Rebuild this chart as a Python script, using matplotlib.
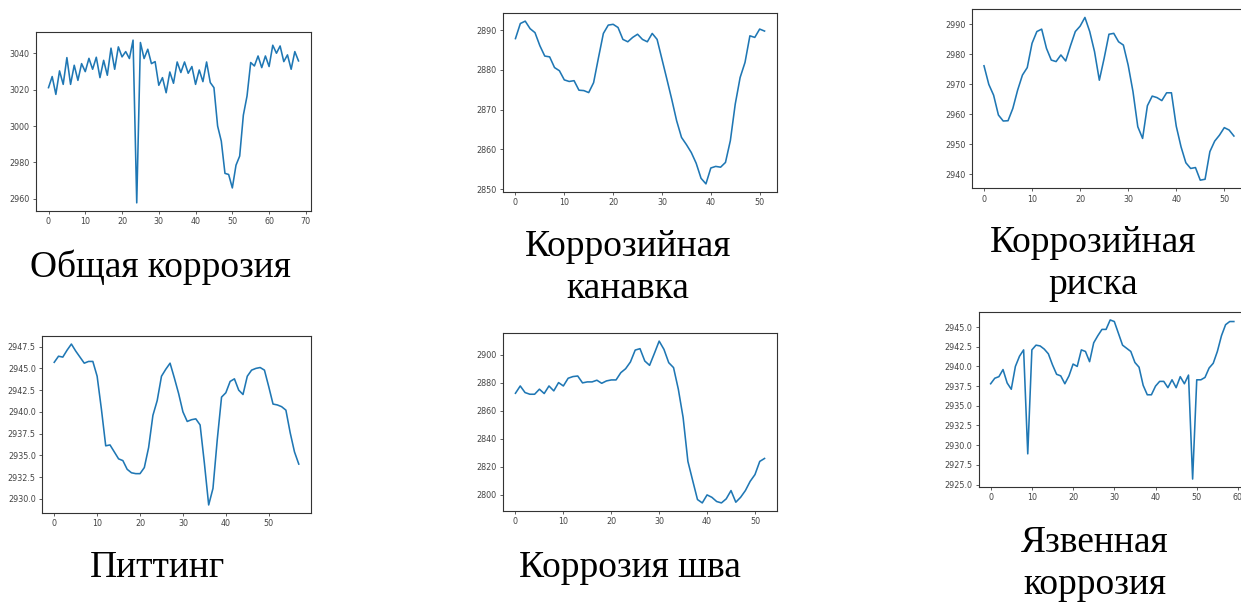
import matplotlib
matplotlib.use("Agg")
import matplotlib.pyplot as plt

W, H = 1241, 602

captions = [
    ["Общая коррозия"],
    ["Коррозийная", "канавка"],
    ["Коррозийная", "риска"],
    ["Питтинг"],
    ["Коррозия шва"],
    ["Язвенная", "коррозия"],
]

general = [3021.1, 3027.2, 3017.4, 3030.3, 3022.9, 3037.6, 3022.9, 3033.4, 3025.1, 3034.3,
           3029.9, 3037.2, 3031.2, 3037.8, 3026.6, 3036.1, 3027.9, 3042.8, 3031.2, 3043.5,
           3038.0, 3040.9, 3037.1, 3047.2, 2957.8, 3045.9, 3037.1, 3042.2, 3034.3, 3035.4,
           3022.4, 3026.6, 3018.3, 3029.7, 3023.5, 3035.2, 3029.4, 3035.2, 3029.0, 3032.7,
           3022.9, 3030.8, 3024.4, 3035.2, 3023.9, 3021.1, 3000.0, 2991.7, 2974.0, 2973.4,
           2966.0, 2978.5, 2983.5, 3006.0, 3016.5, 3034.9, 3033.0, 3038.5, 3032.1, 3038.5,
           3032.7, 3044.4, 3040.0, 3044.0, 3035.4, 3039.1, 3031.2, 3040.9, 3035.8]

groove = [2887.9, 2891.7, 2892.3, 2890.4, 2889.4, 2886.1, 2883.5, 2883.3, 2880.6, 2879.8,
          2877.5, 2877.1, 2877.3, 2874.9, 2874.8, 2874.3, 2876.8, 2883.1, 2889.2, 2891.3,
          2891.5, 2890.7, 2887.7, 2887.1, 2888.2, 2889.0, 2887.7, 2887.1, 2889.2, 2887.7,
          2882.7, 2877.7, 2872.6, 2867.2, 2863.0, 2861.2, 2859.2, 2856.5, 2852.7, 2851.3,
          2855.3, 2855.7, 2855.5, 2856.7, 2862.2, 2871.4, 2878.1, 2881.9, 2888.6, 2888.2,
          2890.3, 2889.8]

scratch = [2976.2, 2970.0, 2966.4, 2959.8, 2957.8, 2957.9, 2962.0, 2968.1, 2973.1, 2975.6,
           2983.7, 2987.6, 2988.4, 2982.0, 2978.1, 2977.6, 2979.8, 2977.8, 2982.9, 2987.6,
           2989.4, 2992.3, 2987.6, 2980.9, 2971.4, 2978.7, 2986.7, 2987.0, 2984.2, 2983.1,
           2976.4, 2967.6, 2955.9, 2952.0, 2962.9, 2966.1, 2965.6, 2964.6, 2967.2, 2967.2,
           2956.1, 2949.2, 2943.9, 2942.0, 2942.3, 2938.1, 2938.4, 2947.6, 2951.1, 2953.1,
           2955.6, 2954.8, 2952.8]

pitting = [2945.7, 2946.4, 2946.3, 2947.1, 2947.8, 2947.0, 2946.3, 2945.6, 2945.8, 2945.8,
           2944.1, 2940.3, 2936.1, 2936.2, 2935.4, 2934.6, 2934.4, 2933.4, 2933.0, 2932.9,
           2932.9, 2933.6, 2935.9, 2939.6, 2941.3, 2944.1, 2944.9, 2945.6, 2943.9, 2942.1,
           2940.0, 2938.9, 2939.1, 2939.2, 2938.5, 2934.1, 2929.3, 2931.2, 2936.8, 2941.7,
           2942.2, 2943.5, 2943.8, 2942.5, 2942.0, 2944.1, 2944.8, 2945.0, 2945.1, 2944.8,
           2942.9, 2940.9, 2940.8, 2940.6, 2940.2, 2937.6, 2935.4, 2934.0]

weld = [2872.5, 2877.7, 2873.0, 2871.8, 2871.8, 2875.4, 2872.3, 2877.7, 2874.2, 2880.1,
        2877.7, 2883.2, 2884.4, 2884.8, 2879.9, 2880.6, 2880.6, 2881.8, 2879.6, 2881.3,
        2882.0, 2882.0, 2887.2, 2890.0, 2894.8, 2903.3, 2904.3, 2895.5, 2892.4, 2900.9,
        2909.7, 2903.8, 2894.3, 2890.8, 2875.4, 2855.2, 2823.9, 2810.2, 2796.7, 2794.3,
        2800.0, 2798.3, 2795.3, 2794.3, 2797.2, 2803.1, 2794.8, 2798.3, 2803.1, 2809.7,
        2814.5, 2823.9, 2826.0]

ulcer = [2937.8, 2938.5, 2938.7, 2939.6, 2937.9, 2937.1, 2940.0, 2941.3, 2942.1, 2928.9,
         2942.1, 2942.7, 2942.6, 2942.2, 2941.6, 2940.2, 2939.0, 2938.8, 2937.8, 2938.8,
         2940.3, 2940.0, 2942.1, 2941.9, 2940.6, 2943.0, 2943.9, 2944.7, 2944.7, 2945.9,
         2945.7, 2944.2, 2942.7, 2942.3, 2941.9, 2940.5, 2939.9, 2937.6, 2936.4, 2936.4,
         2937.5, 2938.1, 2938.1, 2937.3, 2938.3, 2937.3, 2938.7, 2937.8, 2938.9, 2925.7,
         2938.3, 2938.3, 2938.6, 2939.8, 2940.4, 2941.9, 2943.9, 2945.3, 2945.7, 2945.7]

series = [general, groove, scratch, pitting, weld, ulcer]

# axes boxes in pixels: left, top, right, bottom
boxes = [
    (36, 32, 311, 211),
    (503, 13, 777, 192),
    (971.5, 9.3, 1246.4, 188.3),
    (42, 336, 311, 513),
    (503, 333, 777, 511),
    (978.5, 312, 1246, 487),
]

# caption first-line baseline (center x, baseline y) in pixels
cap_pos = [
    (160, 277),
    (628, 256),
    (1093, 252),
    (157.5, 577),
    (629.5, 577),
    (1095, 552),
]
line_gap = 42

fig = plt.figure(figsize=(W / 100, H / 100), dpi=100)
fig.patch.set_facecolor("white")

for vals, (l, t, r, b) in zip(series, boxes):
    ax = fig.add_axes([l / W, 1 - b / H, (r - l) / W, (b - t) / H])
    ax.plot(range(len(vals)), vals, color="#1f77b4", lw=1.15)
    ax.tick_params(labelsize=5.8, length=2.5, width=0.6, pad=2,
                   colors="#444444", labelcolor="#444444")
    for s in ax.spines.values():
        s.set_color("#333333")
        s.set_linewidth(0.8)

for lines, (cx, by) in zip(captions, cap_pos):
    for i, line in enumerate(lines):
        fig.text(cx / W, 1 - (by + i * line_gap) / H, line, ha="center", va="baseline",
                 fontsize=27, family="Liberation Serif", color="black")

fig.savefig("out.png", dpi=100)
